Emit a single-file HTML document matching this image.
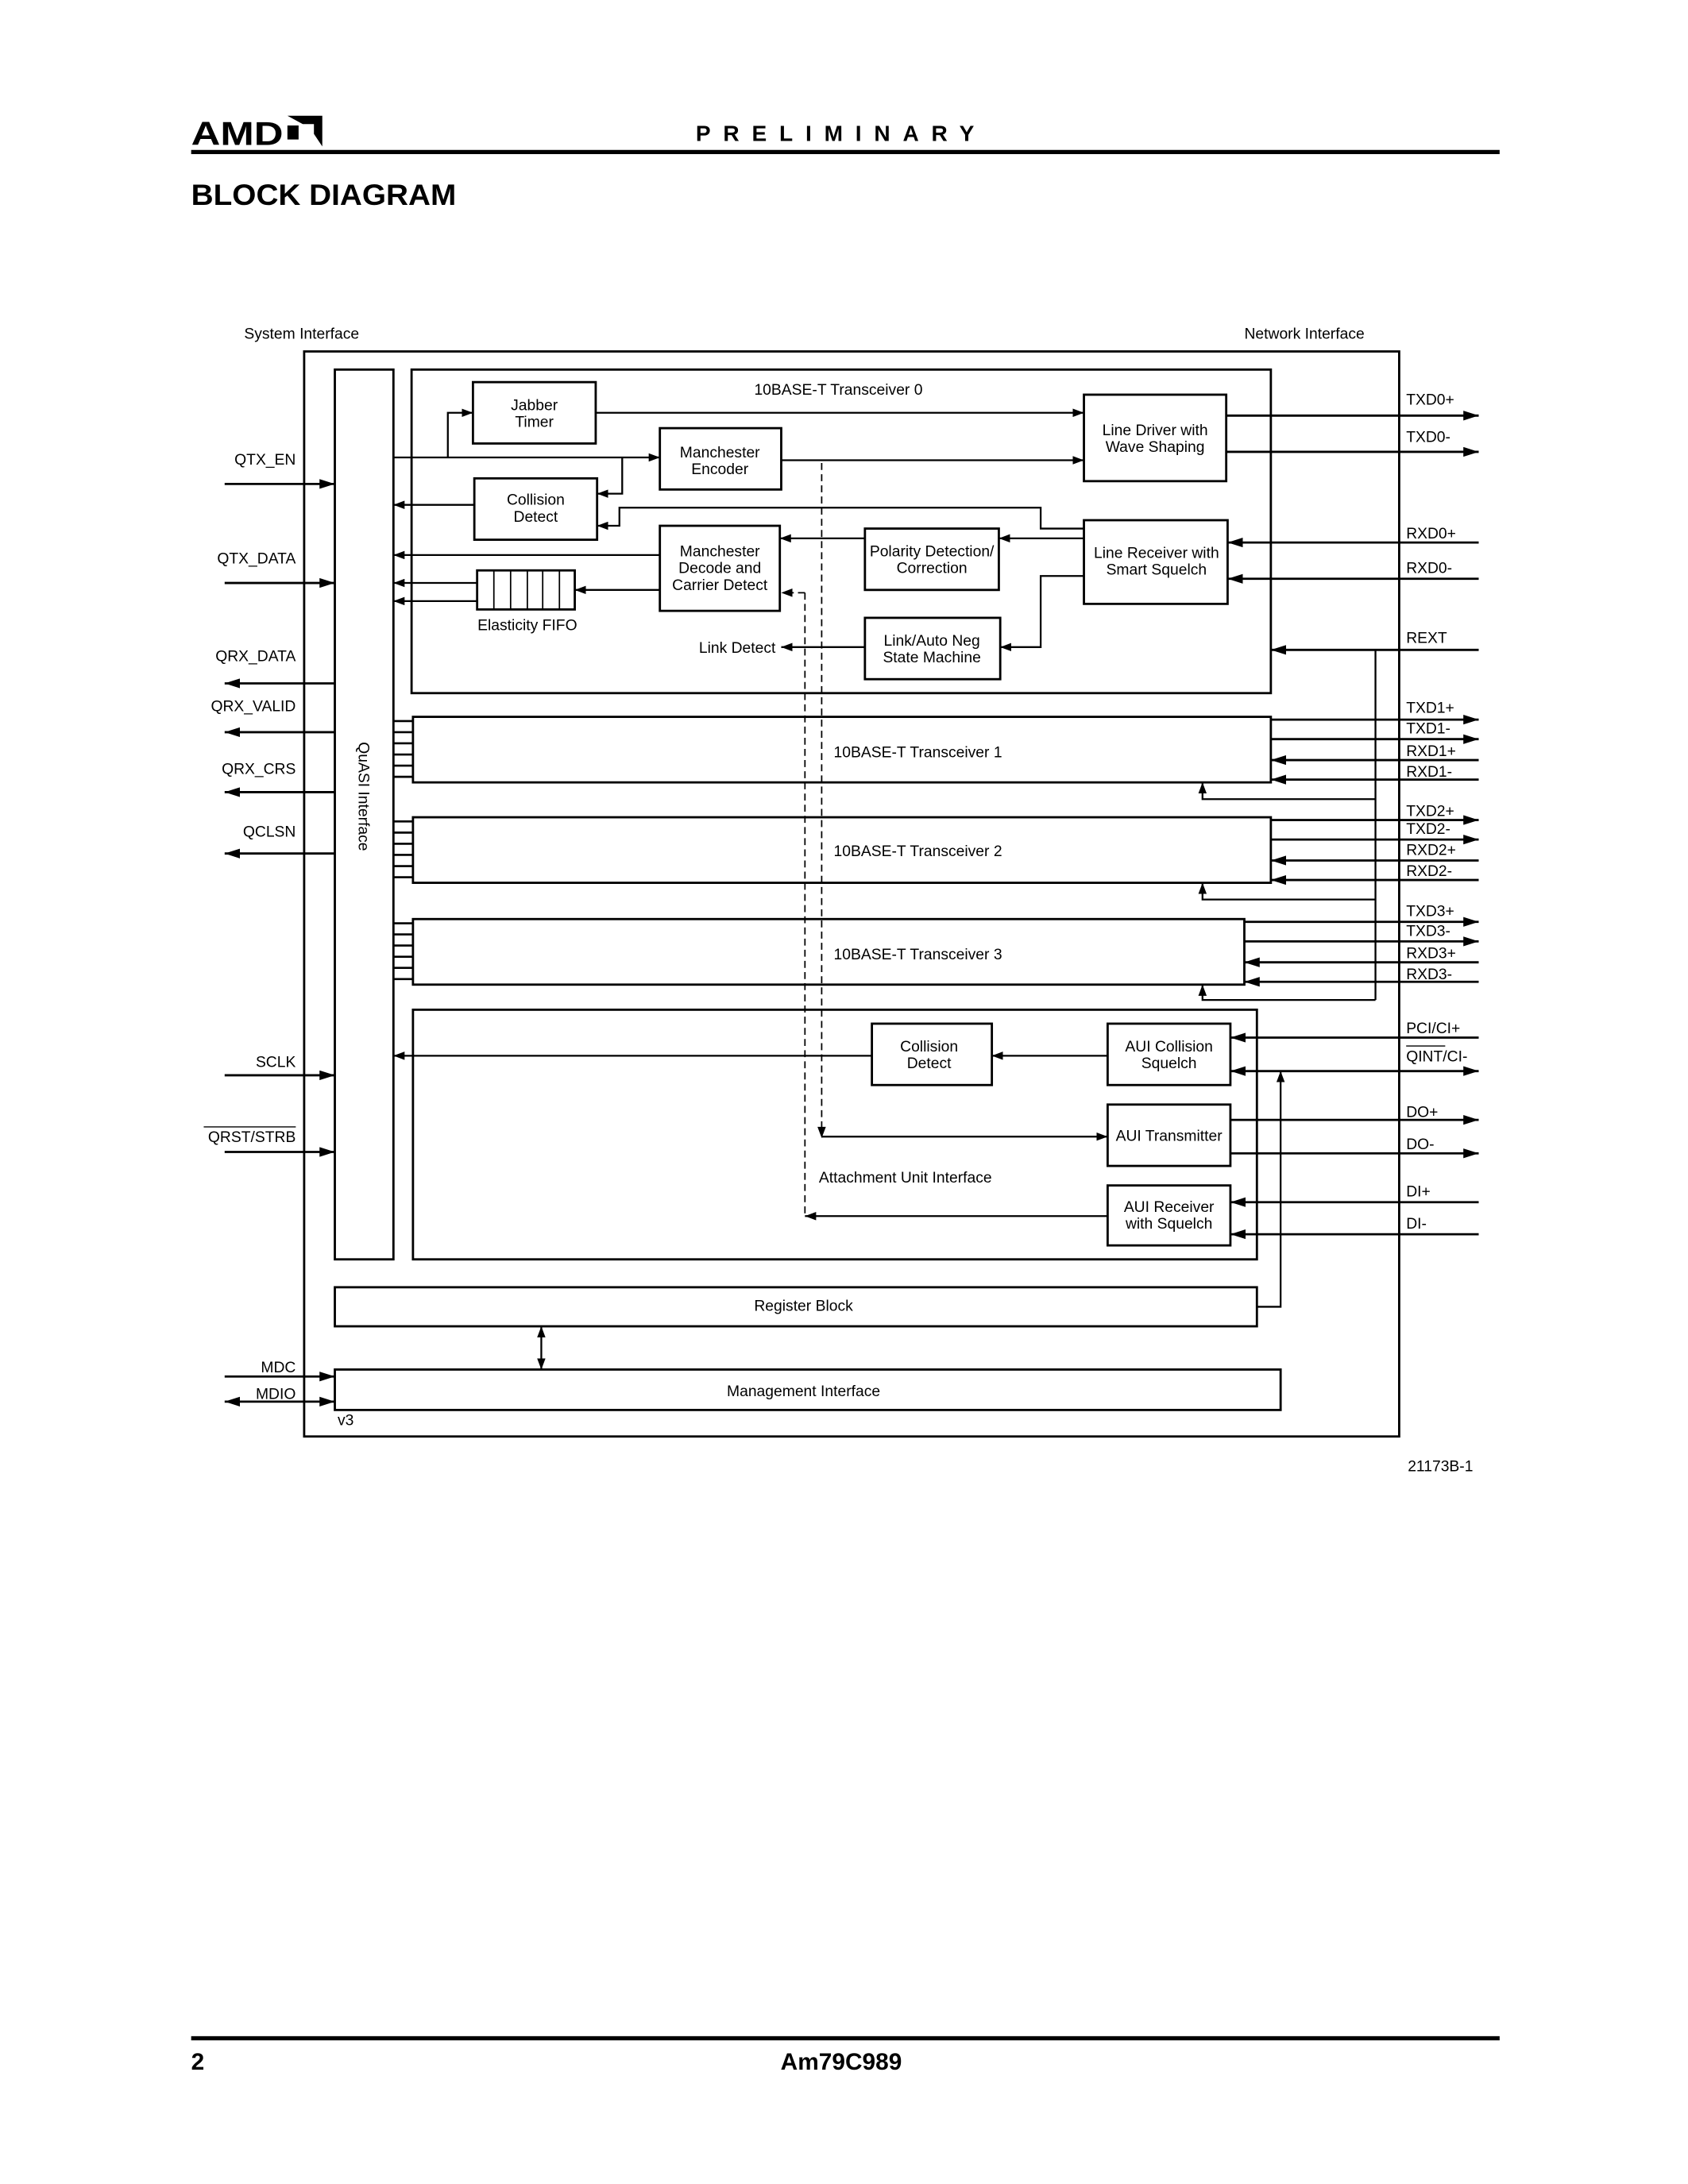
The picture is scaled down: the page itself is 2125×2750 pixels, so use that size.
<!DOCTYPE html>
<html><head><meta charset="utf-8"><style>
html,body{margin:0;padding:0;background:#fff}
svg{display:block}
text{font-family:"Liberation Sans",sans-serif;fill:#000}
</style></head><body>
<svg width="2125" height="2750" viewBox="0 0 1210 1566" xmlns="http://www.w3.org/2000/svg">
<defs>
<marker id="a" viewBox="0 0 11 7" refX="11" refY="3.5" markerWidth="11" markerHeight="7" markerUnits="userSpaceOnUse" orient="auto-start-reverse"><path d="M0,0L11,3.5L0,7z" fill="#000"/></marker>
<marker id="s" viewBox="0 0 8 6" refX="8" refY="3" markerWidth="8" markerHeight="6" markerUnits="userSpaceOnUse" orient="auto-start-reverse"><path d="M0,0L8,3L0,6z" fill="#000"/></marker>
</defs>
<!-- header -->
<text x="137" y="104" font-size="24" font-weight="bold" textLength="66" lengthAdjust="spacingAndGlyphs">AMD</text>
<path d="M206,83h25v22l-6,-9v-7h-8z M206,90l8,0v10h-8z" fill="#000"/>
<text x="603" y="101" font-size="16" font-weight="bold" text-anchor="middle" letter-spacing="9">PRELIMINARY</text>
<rect x="137" y="107.5" width="938" height="3" fill="#000"/>
<text x="137" y="147" font-size="21" font-weight="bold" textLength="190" lengthAdjust="spacingAndGlyphs">BLOCK DIAGRAM</text>

<g font-size="11">
<text x="175" y="243">System Interface</text>
<text x="892" y="243">Network Interface</text>
</g>

<g fill="none" stroke="#000" stroke-width="1.6">
<rect x="218" y="252" width="785" height="778"/>
<rect x="240" y="265" width="42" height="638"/>
<rect x="295" y="265" width="616" height="232"/>
<rect x="339" y="274" width="88" height="44"/>
<rect x="473" y="307" width="87" height="44"/>
<rect x="777" y="283" width="102" height="62"/>
<rect x="340" y="343" width="88" height="44"/>
<rect x="473" y="377" width="86" height="61"/>
<rect x="620" y="379" width="96" height="44"/>
<rect x="777" y="373" width="103" height="60"/>
<rect x="342" y="409" width="70" height="28"/>
<rect x="620" y="443" width="97" height="44"/>
<rect x="296" y="514" width="615" height="47"/>
<rect x="296" y="586" width="615" height="47"/>
<rect x="296" y="659" width="596" height="47"/>
<rect x="296" y="724" width="605" height="179"/>
<rect x="625" y="734" width="86" height="44"/>
<rect x="794" y="734" width="88" height="44"/>
<rect x="794" y="792" width="88" height="44"/>
<rect x="794" y="850" width="88" height="43"/>
<rect x="240" y="923" width="661" height="28"/>
<rect x="240" y="982" width="678" height="29"/>
</g>
<g stroke="#000" stroke-width="1">
<line x1="354" y1="409" x2="354" y2="437"/><line x1="366" y1="409" x2="366" y2="437"/><line x1="378" y1="409" x2="378" y2="437"/><line x1="389" y1="409" x2="389" y2="437"/><line x1="401" y1="409" x2="401" y2="437"/>
</g>
<!-- stubs -->
<g stroke="#000" stroke-width="1.5">
<path d="M282,517h14M282,525h14M282,533h14M282,541h14M282,549h14M282,557h14"/>
<path d="M282,589h14M282,597h14M282,605h14M282,613h14M282,621h14M282,629h14"/>
<path d="M282,662h14M282,670h14M282,678h14M282,686h14M282,694h14M282,702h14"/>
</g>

<!-- text in boxes -->
<g font-size="11" text-anchor="middle">
<text x="383" y="294">Jabber</text><text x="383" y="306">Timer</text>
<text x="516" y="328">Manchester</text><text x="516" y="340">Encoder</text>
<text x="828" y="312">Line Driver with</text><text x="828" y="324">Wave Shaping</text>
<text x="384" y="362">Collision</text><text x="384" y="374">Detect</text>
<text x="516" y="399">Manchester</text><text x="516" y="411">Decode and</text><text x="516" y="423">Carrier Detect</text>
<text x="668" y="399">Polarity Detection/</text><text x="668" y="411">Correction</text>
<text x="829" y="400">Line Receiver with</text><text x="829" y="412">Smart Squelch</text>
<text x="378" y="452">Elasticity FIFO</text>
<text x="668" y="463">Link/Auto Neg</text><text x="668" y="475">State Machine</text>
<text x="601" y="283">10BASE-T Transceiver 0</text>
<text x="658" y="543">10BASE-T Transceiver 1</text>
<text x="658" y="614">10BASE-T Transceiver 2</text>
<text x="658" y="688">10BASE-T Transceiver 3</text>
<text x="666" y="754">Collision</text><text x="666" y="766">Detect</text>
<text x="838" y="754">AUI Collision</text><text x="838" y="766">Squelch</text>
<text x="838" y="818">AUI Transmitter</text>
<text x="838" y="869">AUI Receiver</text><text x="838" y="881">with Squelch</text>
<text x="576" y="940">Register Block</text>
<text x="576" y="1001">Management Interface</text>
</g>
<g font-size="11">
<text x="501" y="468">Link Detect</text>
<text x="587" y="848">Attachment Unit Interface</text>
<text x="242" y="1022">v3</text>
<text x="1056" y="1055" text-anchor="end">21173B-1</text>
<text transform="translate(257,532) rotate(90)">QuASI Interface</text>
</g>

<!-- transceiver 0 internal connections -->
<g fill="none" stroke="#000" stroke-width="1.3">
<path d="M282,328H473" marker-end="url(#s)"/>
<path d="M321,328V296H339" marker-end="url(#s)"/>
<path d="M446,328V354H428" marker-end="url(#s)"/>
<path d="M427,296H777" marker-end="url(#s)"/>
<path d="M560,330H777" marker-end="url(#s)"/>
<path d="M777,379H746V364H444V377H428" marker-end="url(#s)"/>
<path d="M777,386H716" marker-end="url(#s)"/>
<path d="M620,386H559" marker-end="url(#s)"/>
<path d="M777,413H746V464H717" marker-end="url(#s)"/>
<path d="M620,464H560" marker-end="url(#s)"/>
<path d="M340,362H282" marker-end="url(#s)"/>
<path d="M473,398H282" marker-end="url(#s)"/>
<path d="M473,423H412" marker-end="url(#s)"/>
<path d="M342,418H282" marker-end="url(#s)"/>
<path d="M342,431H282" marker-end="url(#s)"/>
<!-- AUI -->
<path d="M794,757H711" marker-end="url(#s)"/>
<path d="M625,757H282" marker-end="url(#s)"/>
<path d="M589,815H794" marker-end="url(#s)"/>
<path d="M794,872H577" marker-end="url(#s)"/>
<path d="M901,937H918V768" marker-end="url(#s)"/>
<path d="M388,951V982" marker-start="url(#s)" marker-end="url(#s)"/>
<!-- REXT distribution -->
<path d="M986,466V717"/>
<path d="M986,573H862V561" marker-end="url(#s)"/>
<path d="M986,645H862V633" marker-end="url(#s)"/>
<path d="M986,717H862V706" marker-end="url(#s)"/>
</g>
<!-- dashed -->
<g fill="none" stroke="#000" stroke-width="1" stroke-dasharray="5,3">
<path d="M589,332V812"/>
<path d="M577,425V872"/>
<path d="M577,425H562"/>
</g>
<path d="M589,816l-3,-8h6z M560,425l8,-3v6z" fill="#000"/>

<!-- external signals -->
<g fill="none" stroke="#000" stroke-width="1.6">
<path d="M161,347H240" marker-end="url(#a)"/>
<path d="M161,418H240" marker-end="url(#a)"/>
<path d="M240,490H161" marker-end="url(#a)"/>
<path d="M240,525H161" marker-end="url(#a)"/>
<path d="M240,568H161" marker-end="url(#a)"/>
<path d="M240,612H161" marker-end="url(#a)"/>
<path d="M161,771H240" marker-end="url(#a)"/>
<path d="M161,826H240" marker-end="url(#a)"/>
<path d="M161,987H240" marker-end="url(#a)"/>
<path d="M161,1005H240" marker-start="url(#a)" marker-end="url(#a)"/>

<path d="M879,298H1060" marker-end="url(#a)"/>
<path d="M879,324H1060" marker-end="url(#a)"/>
<path d="M1060,389H880" marker-end="url(#a)"/>
<path d="M1060,415H880" marker-end="url(#a)"/>
<path d="M1060,466H911" marker-end="url(#a)"/>
<path d="M911,516H1060" marker-end="url(#a)"/>
<path d="M911,530H1060" marker-end="url(#a)"/>
<path d="M1060,545H911" marker-end="url(#a)"/>
<path d="M1060,559H911" marker-end="url(#a)"/>
<path d="M911,588H1060" marker-end="url(#a)"/>
<path d="M911,602H1060" marker-end="url(#a)"/>
<path d="M1060,617H911" marker-end="url(#a)"/>
<path d="M1060,631H911" marker-end="url(#a)"/>
<path d="M892,661H1060" marker-end="url(#a)"/>
<path d="M892,675H1060" marker-end="url(#a)"/>
<path d="M1060,690H892" marker-end="url(#a)"/>
<path d="M1060,704H892" marker-end="url(#a)"/>
<path d="M1060,744H882" marker-end="url(#a)"/>
<path d="M882,768H1060" marker-start="url(#a)" marker-end="url(#a)"/>
<path d="M882,803H1060" marker-end="url(#a)"/>
<path d="M882,827H1060" marker-end="url(#a)"/>
<path d="M1060,862H882" marker-end="url(#a)"/>
<path d="M1060,885H882" marker-end="url(#a)"/>
</g>

<g font-size="11" text-anchor="end">
<text x="212" y="333">QTX_EN</text>
<text x="212" y="404">QTX_DATA</text>
<text x="212" y="474">QRX_DATA</text>
<text x="212" y="510">QRX_VALID</text>
<text x="212" y="555">QRX_CRS</text>
<text x="212" y="600">QCLSN</text>
<text x="212" y="765">SCLK</text>
<text x="212" y="819">QRST/STRB</text>
<text x="212" y="984">MDC</text>
<text x="212" y="1003">MDIO</text>
</g>
<line x1="146" y1="808" x2="212" y2="808" stroke="#000" stroke-width="0.8"/>
<g font-size="11">
<text x="1008" y="290">TXD0+</text>
<text x="1008" y="317">TXD0-</text>
<text x="1008" y="386">RXD0+</text>
<text x="1008" y="411">RXD0-</text>
<text x="1008" y="461">REXT</text>
<text x="1008" y="511">TXD1+</text>
<text x="1008" y="526">TXD1-</text>
<text x="1008" y="542">RXD1+</text>
<text x="1008" y="557">RXD1-</text>
<text x="1008" y="585">TXD2+</text>
<text x="1008" y="598">TXD2-</text>
<text x="1008" y="613">RXD2+</text>
<text x="1008" y="628">RXD2-</text>
<text x="1008" y="657">TXD3+</text>
<text x="1008" y="671">TXD3-</text>
<text x="1008" y="687">RXD3+</text>
<text x="1008" y="702">RXD3-</text>
<text x="1008" y="741">PCI/CI+</text>
<text x="1008" y="761">QINT/CI-</text>
<text x="1008" y="801">DO+</text>
<text x="1008" y="824">DO-</text>
<text x="1008" y="858">DI+</text>
<text x="1008" y="881">DI-</text>
</g>
<line x1="1008" y1="750" x2="1036" y2="750" stroke="#000" stroke-width="0.8"/>

<!-- footer -->
<rect x="137" y="1460" width="938" height="3" fill="#000"/>
<text x="137" y="1484" font-size="17" font-weight="bold">2</text>
<text x="603" y="1484" font-size="17" font-weight="bold" text-anchor="middle">Am79C989</text>
</svg>
</body></html>
